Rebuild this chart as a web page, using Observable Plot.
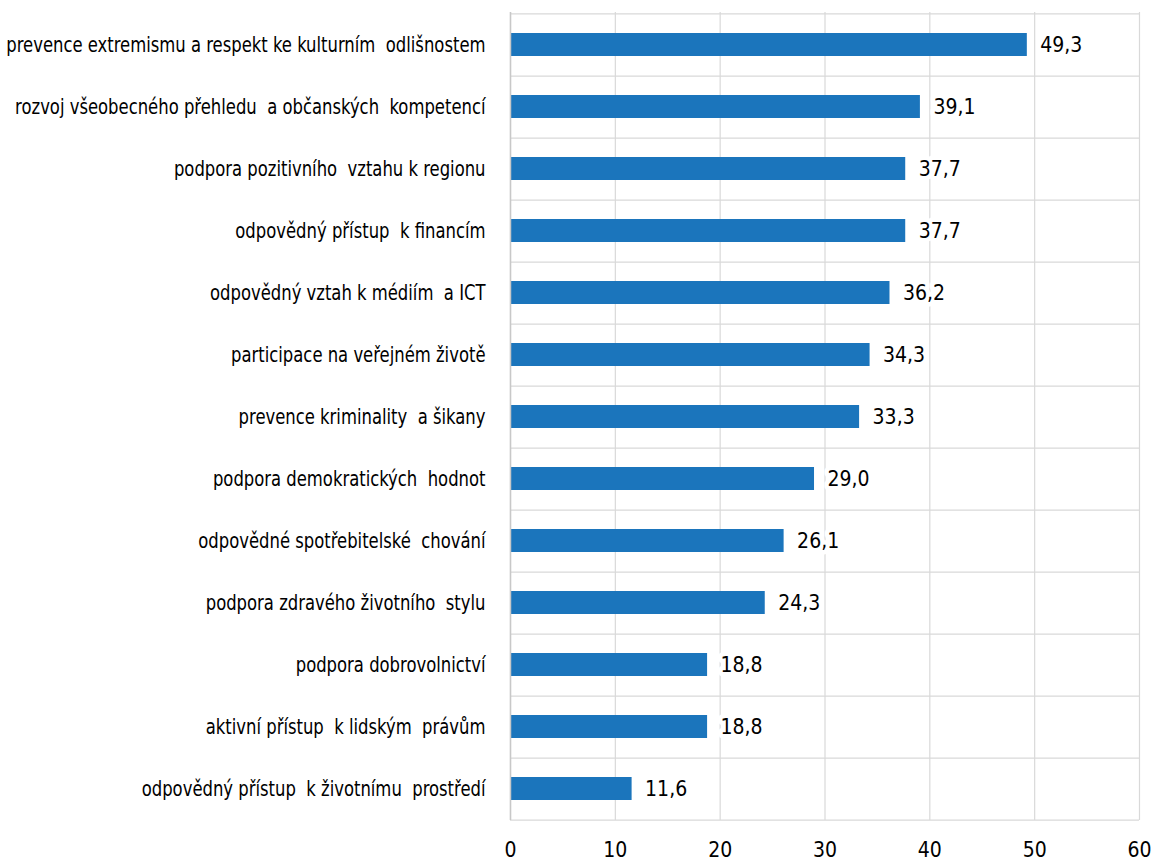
<!DOCTYPE html>
<html>
<head>
<meta charset="utf-8">
<script src="https://cdn.jsdelivr.net/npm/d3@7"></script>
<script src="https://cdn.jsdelivr.net/npm/@observablehq/plot@0.6"></script>
<style>
  html, body { margin: 0; padding: 0; background: #fff; }
  svg { display: block; }
</style>
</head>
<body>
<div id="chart"></div>
<script>
const categories = [
  "prevence extremismu a respekt ke kulturním  odlišnostem",
  "rozvoj všeobecného přehledu  a občanských  kompetencí",
  "podpora pozitivního  vztahu k regionu",
  "odpovědný přístup  k financím",
  "odpovědný vztah k médiím  a ICT",
  "participace na veřejném životě",
  "prevence kriminality  a šikany",
  "podpora demokratických  hodnot",
  "odpovědné spotřebitelské  chování",
  "podpora zdravého životního  stylu",
  "podpora dobrovolnictví",
  "aktivní přístup  k lidským  právům",
  "odpovědný přístup  k životnímu  prostředí"
];
const values = [49.3, 39.1, 37.7, 37.7, 36.2, 34.3, 33.3, 29.0, 26.1, 24.3, 18.8, 18.8, 11.6];
const xTicks = [0, 10, 20, 30, 40, 50, 60];

const data = categories.map((c, i) => ({category: c, value: values[i]}));
const fmt = v => d3.format(".1f")(v).replace(".", ",");

const W = 1151, H = 864;
const mT = 12, mB = 44, mL = 510, mR = 12;
const step = (H - mT - mB) / categories.length;
const font = "'Liberation Sans Narrow', 'DejaVu Sans Condensed', 'Arial Narrow', sans-serif";

const chart = Plot.plot({
  width: W,
  height: H,
  marginTop: mT,
  marginBottom: mB,
  marginLeft: mL,
  marginRight: mR,
  style: {fontFamily: font, fontSize: "21px", color: "#000", background: "#fff"},
  x: {domain: [0, 60], ticks: xTicks, label: null, axis: null},
  y: {domain: categories, paddingInner: 0.63, paddingOuter: 0.315, label: null, axis: null},
  marks: [
    Plot.ruleX(xTicks, {stroke: "#d9d9d9", strokeWidth: 1.2}),
    Plot.ruleY(categories, {y: d => d, dy: step / 2, stroke: "#d9d9d9", strokeWidth: 1.2}),
    Plot.ruleY(categories.slice(0, 1), {y: d => d, dy: -step / 2, stroke: "#d9d9d9", strokeWidth: 1.2}),
    Plot.barX(data, {x: "value", y: "category", fill: "#1b75bc"}),
    Plot.text(data, {
      x: "value", y: "category", text: d => fmt(d.value),
      textAnchor: "start", dx: 13, fontSize: 21, fill: "#000",
      stroke: "#fff", strokeWidth: 9, paintOrder: "stroke"
    }),
    Plot.ruleX([0], {stroke: "#c8c8c8", strokeWidth: 1.5}),
    Plot.axisY({tickSize: 0, tickPadding: 25, fontSize: 22, label: null, textAnchor: "end"}),
    Plot.axisX(xTicks, {tickSize: 0, tickPadding: 22, fontSize: 21, label: null, tickFormat: d => String(d)})
  ]
});
document.getElementById("chart").appendChild(chart);

// condense the category labels to match the narrow typeface of the original
chart.querySelectorAll("text").forEach(t => {
  if (categories.includes(t.textContent)) {
    const w = t.getComputedTextLength();
    t.setAttribute("textLength", (w * 0.83).toFixed(1));
    t.setAttribute("lengthAdjust", "spacingAndGlyphs");
  }
});
</script>
</body>
</html>
